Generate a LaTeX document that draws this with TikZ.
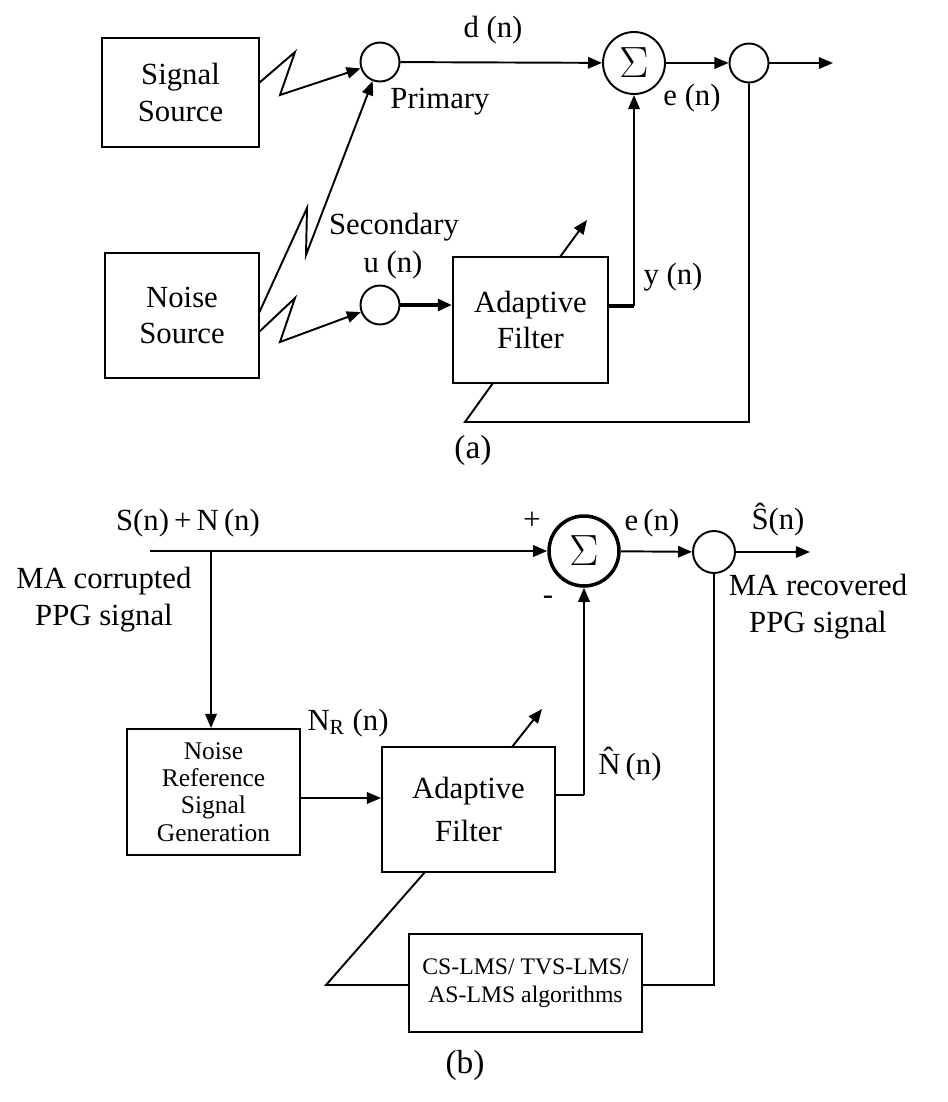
\documentclass[tikz,border=0pt]{standalone}
\usepackage{fontspec}
\setmainfont{Liberation Serif}
\usepackage{tikz}
\usetikzlibrary{arrows.meta, positioning}
\tikzset{
    blk/.style={rectangle, draw, line width=1.1pt, text centered, align=center, inner sep=0pt},
    junc/.style={circle, draw, line width=1.1pt, minimum size=0.78cm, inner sep=0pt},
    sum/.style={circle, draw, line width=1.1pt, minimum size=1.24cm, inner sep=0pt, font=\fontsize{24}{24}\selectfont},
    lbl/.style={inner sep=1pt, align=center},
    arr/.style={-{Triangle[length=8pt,width=6.5pt]}, line width=1.1pt},
    wire/.style={line width=1.1pt}
}
\begin{document}
\begin{tikzpicture}[x=0.02cm, y=-0.02cm, font=\fontsize{17.5}{21}\selectfont]
    \useasboundingbox (0,0) rectangle (947,1102);

    % (a) noise canceller
    \node[blk, minimum width=3.14cm, minimum height=2.18cm] (sigsrc) at (180.5,92.5) {Signal\\Source};
    \node[blk, minimum width=3.08cm, minimum height=2.5cm] (noisesrc) at (182,315.5) {Noise\\Source};
    \node[junc] (prim) at (380,62) {};
    \node[sum] (suma) at (634,63) {$\Sigma$};
    \node[junc] (outa) at (749,63) {};
    \node[junc] (seca) at (380,305) {};
    \node[blk, minimum width=3.1cm, minimum height=2.52cm] (filta) at (530.5,320) {Adaptive\\Filter};
    \coordinate (enda) at (833,63);
    \coordinate (ya) at (608,306);
    \coordinate (adja) at (587,220);
    \coordinate (fba) at (465,422);

    % labels (a)
    \node[lbl] at (493,30) {d (n)};
    \node[lbl] at (440,102) {Primary};
    \node[lbl] at (692,98) {e (n)};
    \node[lbl] at (394,227) {Secondary};
    \node[lbl] at (393,265) {u (n)};
    \node[lbl] at (673,277) {y (n)};
    \node[lbl, font=\fontsize{19}{19}\selectfont] at (473,450) {(a)};

    % connections (a)
    \draw[arr] (259,83) -- (295,52) -- (280,95) -- (prim);
    \draw[arr] (259,313) -- (307,208) -- (306,255) -- (prim);
    \draw[arr] (259,332) -- (295,298) -- (280,342) -- (seca);
    \draw[arr, line width=2.2pt] (seca) -- (seca -| filta.west);
    \draw[arr] (prim) -- (suma);
    \draw[arr] (suma) -- (outa);
    \draw[arr] (outa) -- (enda);
    \draw[wire, line width=2pt] (ya) -- (634,306);
    \draw[arr] (634,306) -- (suma);
    \draw[arr] (560,257) -- (adja);
    \draw[wire] (outa) -- (749,422) -- (fba) -- (493,383);

    % (b) PPG artifact removal
    \coordinate (inb) at (150,551);
    \coordinate (br) at (211,551);
    \node[sum, minimum size=1.4cm, line width=2pt] (sumb) at (584,551) {$\Sigma$};
    \node[junc, minimum size=0.84cm] (outb) at (714,552) {};
    \coordinate (endb) at (810,552);
    \node[blk, minimum width=3.46cm, minimum height=2.52cm, font=\fontsize{14.5}{15.5}\selectfont] (nref) at (213.5,792) {Noise\\Reference\\Signal\\Generation};
    \node[blk, minimum width=3.46cm, minimum height=2.5cm, font=\fontsize{17.5}{24}\selectfont] (filtb) at (468.5,809.5) {Adaptive\\Filter};
    \node[blk, minimum width=4.66cm, minimum height=1.96cm, font=\fontsize{13.5}{16}\selectfont] (alg) at (525.5,983) {CS-LMS/ TVS-LMS/\\AS-LMS algorithms};
    \coordinate (nb) at (555,795);
    \coordinate (fbb) at (326,985);

    % labels (b)
    \node[lbl] at (188,523) {S(n)\,+\,N\,(n)};
    \node[lbl] at (104,600) {MA corrupted\\PPG signal};
    \node[lbl] at (532,521) {+};
    \node[lbl] at (548,600) {-};
    \node[lbl] at (652,523) {e\,(n)};
    \node[lbl] at (778,520) {\^{S}(n)};
    \node[lbl] at (818,607) {MA recovered\\PPG signal};
    \node[lbl] at (348,723) {N\textsubscript{R} (n)};
    \node[lbl] at (630,764) {\^{N}\,(n)};
    \node[lbl, font=\fontsize{19}{19}\selectfont] at (465,1065) {(b)};

    % connections (b)
    \draw[arr] (inb) -- (sumb);
    \draw[arr] (br) -- (br |- nref.north);
    \draw[arr] (nref.east |- 0,798) -- (filtb.west |- 0,798);
    \draw[wire] (nb) -- (584,795);
    \draw[arr] (584,795) -- (sumb);
    \draw[arr] (sumb) -- (outb);
    \draw[arr] (outb) -- (endb);
    \draw[arr] (512,747) -- (542,709);
    \draw[wire] (outb) -- (714,985) -- (alg.east |- 0,985);
    \draw[wire] (alg.west |- 0,985) -- (fbb) -- (425,872);
\end{tikzpicture}
\end{document}
